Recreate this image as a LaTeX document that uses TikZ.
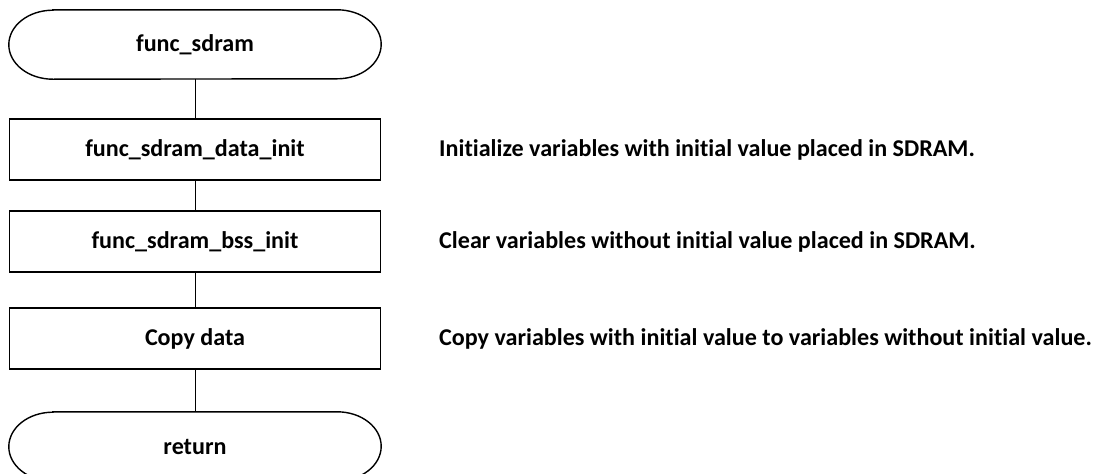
\documentclass[tikz,border=0pt]{standalone}
\usepackage{fontspec}
\setmainfont{Carlito}[Ligatures={NoCommon}]
\begin{document}
\begin{tikzpicture}[x=1pt,y=-1pt,
  every node/.style={font=\bfseries\fontsize{24.1}{28}\selectfont},
  procbox/.style={draw=black,line width=1.6pt,minimum width=371pt,minimum height=61pt,inner sep=0pt},
  termbox/.style={minimum width=372pt,minimum height=69pt,inner sep=0pt},
  termline/.style={draw=black,line width=1.4pt},
  link/.style={draw=black,line width=0.8pt},
  note/.style={anchor=west,inner sep=0pt}]
\useasboundingbox (0,0) rectangle (1104,474);
\clip (0,0) rectangle (1104,474);
% nodes
\node[termbox] (start) at (195,44.5) {func\_sdram};
\node[procbox] (init) at (195,149.5) {func\_sdram\_data\_init};
\node[procbox] (bss) at (195,241.5) {func\_sdram\_bss\_init};
\node[procbox] (copy) at (195,338.5) {Copy data};
\node[termbox] (ret) at (195,446.5) {return};
% terminator outlines
\foreach \t in {start,ret}{
  \path[termline] ([xshift=44pt]\t.north west) -- ([xshift=-44pt]\t.north east)
    arc[start angle=90,end angle=-90,x radius=44pt,y radius=34.5pt]
    -- ([xshift=44pt]\t.south west)
    arc[start angle=-90,end angle=-270,x radius=44pt,y radius=34.5pt] -- cycle;
}
% connectors
\path[link] (start.south) -- (init.north);
\path[link] (init.south) -- (bss.north);
\path[link] (bss.south) -- (copy.north);
\path[link] (copy.south) -- (ret.north);
% notes
\node[note] (n1) at (439,149.5) {Initialize variables with initial value placed in SDRAM.};
\node[note] (n2) at (439,241.5) {Clear variables without initial value placed in SDRAM.};
\node[note] (n3) at (439,338.5) {Copy variables with initial value to variables without initial value.};
\end{tikzpicture}
\end{document}
